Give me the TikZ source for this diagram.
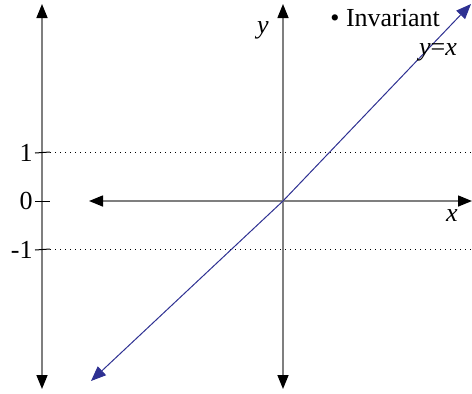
\documentclass[tikz,border=0pt]{standalone}
\usepackage{fontspec}
\setmainfont{Liberation Serif}
\usetikzlibrary{arrows.meta}
\usepackage{xcolor}
\definecolor{AxisGray}{HTML}{7F7F7F}
\definecolor{LineBlue}{HTML}{2E3192}

\begin{document}
\begin{tikzpicture}[
      x=0.5pt, y=-0.5pt,
      every node/.style={font=\fontsize{13}{15}\selectfont},
      axis/.style={draw=AxisGray, line width=0.75pt, {Triangle[length=7pt,width=5.5pt,fill=black,color=black]}-{Triangle[length=7pt,width=5.5pt,fill=black,color=black]}},
      diag/.style={draw=LineBlue, line width=0.5pt, {Triangle[length=7.5pt,width=6pt]}-{Triangle[length=7.5pt,width=6pt]}},
      guide/.style={draw=black, line width=0.5pt, dotted},
      tick/.style={draw=black, line width=0.5pt}
    ]
    \useasboundingbox (0,0) rectangle (472,393);

    % left scale
    \coordinate (ltop) at (42,4);
    \coordinate (lbot) at (42,389);
    \draw[axis] (lbot) -- (ltop);
    \node[anchor=east, inner sep=1pt] (one) at (35,153) {1};
    \node[anchor=east, inner sep=1pt] (zero) at (35,201) {0};
    \node[anchor=east, inner sep=1pt] (mone) at (35,250) {-1};
    \coordinate (t1) at (50,152);
    \coordinate (t0) at (50,201);
    \coordinate (tm) at (50,249);
    \draw[tick] (one.east) -- (t1);
    \draw[tick] (zero.east) -- (t0);
    \draw[tick] (mone.east) -- (tm);

    % dotted levels
    \coordinate (d1) at (472,152);
    \coordinate (dm) at (472,249);
    \draw[guide] (t1) -- (d1);
    \draw[guide] (tm) -- (dm);

    % axes
    \coordinate (org) at (283,201);
    \coordinate (xl) at (89,201);
    \coordinate (xr) at (472,201);
    \coordinate (yt) at (283,4);
    \coordinate (yb) at (283,389);
    \draw[axis] (xl) -- (xr);
    \draw[axis] (yb) -- (yt);
    \node (xlab) at (452,216) {\textit{x}};
    \node (ylab) at (263,30) {\textit{y}};

    % invariant line
    \coordinate (dlo) at (91,381);
    \coordinate (dhi) at (471,4);
    \draw[diag] (dlo) -- (org) -- (dhi);
    \node (dlab) at (438,52) {\textit{y}=\textit{x}};
    \node[anchor=west, inner sep=0pt] (legend) at (330,18) {\textbullet\ Invariant};
  \end{tikzpicture}
\end{document}
